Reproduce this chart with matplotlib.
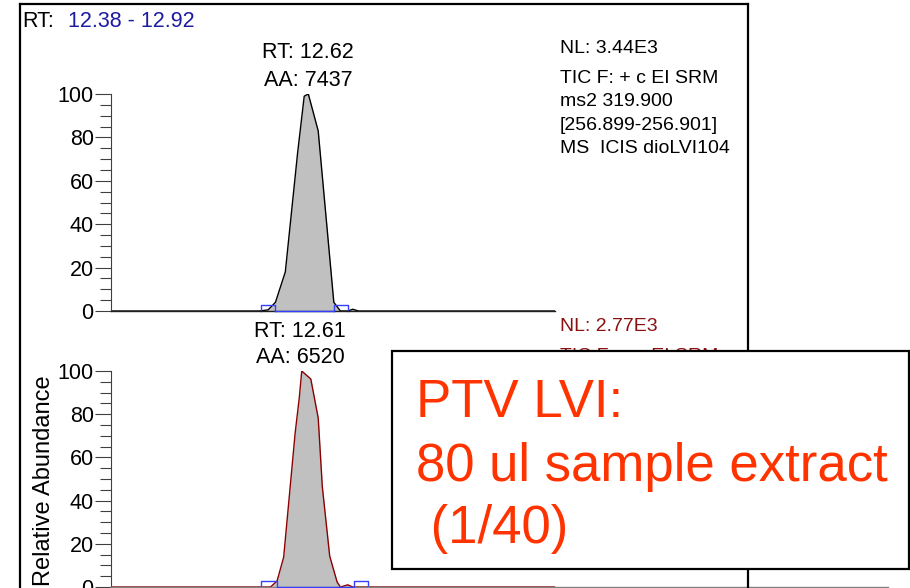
import matplotlib
matplotlib.use('Agg')
from matplotlib import pyplot as plt
from matplotlib.lines import Line2D
from matplotlib.patches import Rectangle
from matplotlib.ticker import MultipleLocator

plt.rcParams['font.family'] = ['Liberation Sans', 'DejaVu Sans']

# retention time window (min)
rt_window = (12.38, 12.92)

# upper trace: diol standard, SRM 319.9 -> 256.9
rt_top = [12.38, 12.56, 12.571, 12.580, 12.592, 12.607, 12.615, 12.620,
          12.632, 12.651, 12.659, 12.668, 12.674, 12.681, 12.92]
ab_top = [0, 0, 0.5, 4, 18, 73, 99, 100, 83, 4, 0, 0, 0.8, 0, 0]
peak_top = (12.62, 7437)
marks_top = [(12.563, 12.580), (12.651, 12.668)]
nl_top = '3.44E3'

# lower trace: PTV LVI sample extract
rt_bot = [12.38, 12.56, 12.574, 12.582, 12.590, 12.604, 12.609, 12.612,
          12.623, 12.632, 12.637, 12.646, 12.655, 12.659, 12.668, 12.674, 12.92]
ab_bot = [0, 0, 0, 2.8, 13.8, 71.4, 87.6, 100, 96.3, 78.3, 46.5, 14.3, 2.3,
          0, 1, 0, 0]
peak_bot = (12.61, 6520)
marks_bot = [(12.563, 12.582), (12.675, 12.692)]
nl_bot = '2.77E3'

scan_lines = ['TIC F: + c EI SRM', 'ms2 319.900', '[256.899-256.901]',
              'MS  ICIS dioLVI104']

W, H = 910, 588
fig = plt.figure(figsize=(W / 100, H / 100), dpi=100)


def px(l, t, r, b):
    return [l / W, 1 - b / H, (r - l) / W, (b - t) / H]


def fx(x):
    return x / W


def fy(y):
    return 1 - y / H


def trace(ax, rt, ab, line_col, marks, axis_col):
    ax.fill_between(rt, ab, 0, color='#c0c0c0', lw=0)
    ax.plot(rt, ab, color=line_col, lw=1)
    for x0, x1 in marks:
        ax.plot([x0, x0, x1, x1], [0, 2.8, 2.8, 0], color='#3340ff', lw=1,
                clip_on=False)
    ax.plot([marks[0][1], marks[1][0]], [0, 0], color='#3340ff', lw=1,
            clip_on=False, zorder=3)
    ax.set_xlim(*rt_window)
    ax.set_ylim(0, 100)
    for s in ['top', 'right']:
        ax.spines[s].set_visible(False)
    ax.spines['left'].set_color('#404040')
    ax.spines['left'].set_linewidth(0.8)
    ax.spines['bottom'].set_color(axis_col)
    ax.spines['bottom'].set_linewidth(1)
    ax.set_xticks([])
    ax.yaxis.set_major_locator(MultipleLocator(20))
    ax.yaxis.set_minor_locator(MultipleLocator(5))
    ax.tick_params(axis='y', which='major', length=11.5, width=0.8,
                   color='#404040', labelsize=15.5, pad=1)
    ax.tick_params(axis='y', which='minor', length=8, width=0.8,
                   color='#404040')
    ax.patch.set_alpha(0)


ax1 = fig.add_axes(px(111, 94, 555, 311))
trace(ax1, rt_top, ab_top, 'black', marks_top, '#202020')
ax2 = fig.add_axes(px(111, 371, 555, 587))
trace(ax2, rt_bot, ab_bot, '#8b0000', marks_bot, '#808080')

# x axis of the lower trace runs on to the right
fig.add_artist(Line2D([fx(555), fx(888)], [fy(587), fy(587)],
                      color='#808080', lw=1))

# peak labels
tr1 = ax1.get_xaxis_transform()
ax1.text(peak_top[0], 1.1645, 'RT: %.2f' % peak_top[0], transform=tr1,
         ha='center', va='baseline', fontsize=15.5)
ax1.text(peak_top[0], 1.037, 'AA: %d' % peak_top[1], transform=tr1,
         ha='center', va='baseline', fontsize=15.5)
tr2 = ax2.get_xaxis_transform()
ax2.text(peak_bot[0], 1.157, 'RT: %.2f' % peak_bot[0], transform=tr2,
         ha='center', va='baseline', fontsize=15.5)
ax2.text(peak_bot[0], 1.038, 'AA: %d' % peak_bot[1], transform=tr2,
         ha='center', va='baseline', fontsize=15.5)

# scan header text
fig.text(fx(560), fy(53), 'NL: ' + nl_top, fontsize=14, va='baseline')
for i, s in enumerate(scan_lines):
    fig.text(fx(560), fy(83 + 23.3 * i), s, fontsize=14, va='baseline')
fig.text(fx(560), fy(331), 'NL: ' + nl_bot, fontsize=14, va='baseline',
         color='#8b1010')
for i, s in enumerate(scan_lines):
    fig.text(fx(560), fy(361 + 23.3 * i), s, fontsize=14, va='baseline',
             color='#8b1010')

fig.text(fx(22), fy(27), 'RT:', fontsize=15.5, va='baseline')
fig.text(fx(68), fy(27), '%.2f - %.2f' % rt_window, fontsize=15.5,
         va='baseline', color='#1c1ca0')

fig.text(fx(44), fy(481), 'Relative Abundance', rotation=90, fontsize=17,
         ha='center', va='center')

# outer frame
for xs, ys in [([20, 20], [4, 590]), ([20, 748], [4, 4]), ([748, 748], [4, 590])]:
    fig.add_artist(Line2D([fx(x) for x in xs], [fy(y) for y in ys],
                          color='black', lw=1.6))

# note box
fig.add_artist(Rectangle((fx(392), fy(569)), fx(909) - fx(392),
                         fy(351) - fy(569), facecolor='white',
                         edgecolor='black', lw=1.6, zorder=10))
orange = '#ff3300'
fig.text(fx(416), fy(417), 'PTV LVI:', fontsize=38, color=orange,
         va='baseline', zorder=11)
fig.text(fx(416), fy(481), '80 ul sample extract', fontsize=38, color=orange,
         va='baseline', zorder=11)
fig.text(fx(416), fy(543), ' (1/40)', fontsize=38, color=orange,
         va='baseline', zorder=11)

fig.savefig('out.png', dpi=100)
